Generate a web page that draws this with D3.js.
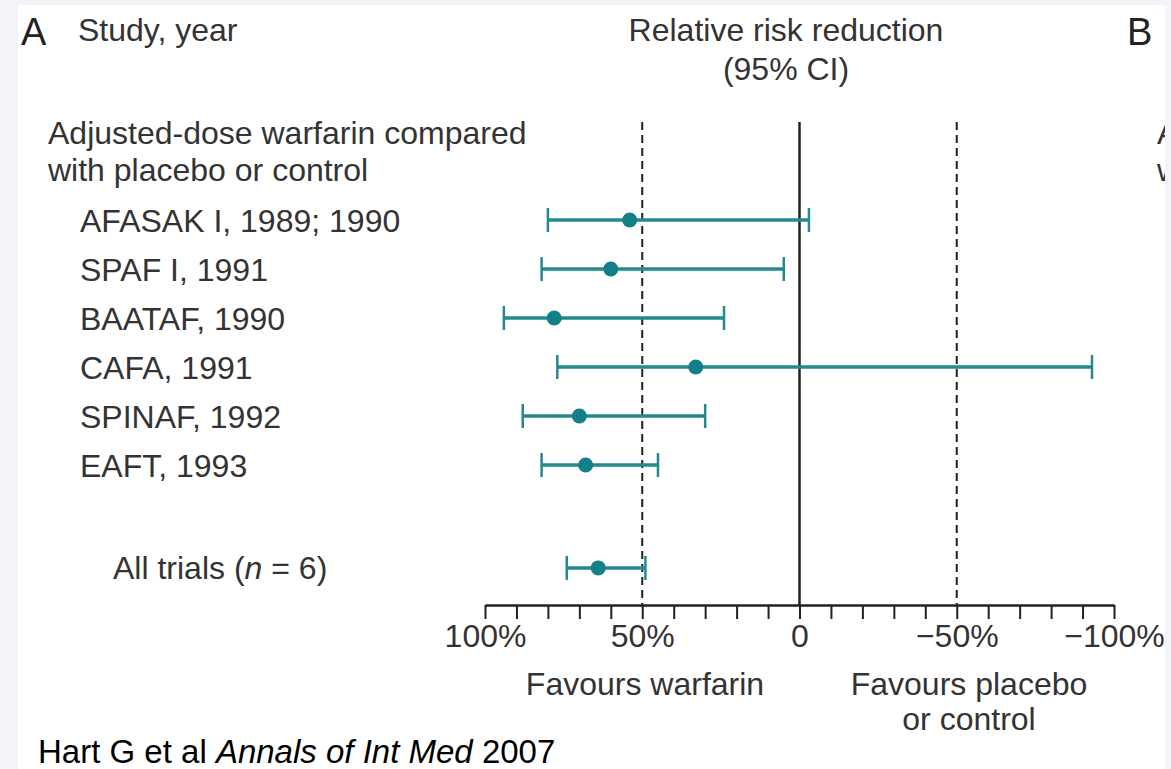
<!DOCTYPE html>
<html>
<head>
<meta charset="utf-8">
<script src="https://cdn.jsdelivr.net/npm/d3@7"></script>
<style>
  html, body { margin: 0; padding: 0; background: #f2f4f9; }
  svg { display: block; }
</style>
</head>
<body>
<svg id="chart" width="1171" height="769"></svg>
<script>
// study rows
var studies = ["AFASAK I, 1989; 1990", "SPAF I, 1991", "BAATAF, 1990", "CAFA, 1991", "SPINAF, 1992", "EAFT, 1993"];
var rrr = [54, 60, 78, 33, 70, 68];        // point estimate, %
var lower = [80, 82, 94, 77, 88, 82];      // CI end favouring warfarin
var upper = [-3, 5, 24, -93, 30, 45];      // CI other end

// pooled
var pooledLabel = "All trials";
var pooled = [64, 74, 49];                 // estimate, lower, upper

var tickValues = d3.range(-100, 101, 10);
var majorTicks = [100, 50, 0, -50, -100];
var refLines = [50, -50];

var teal = "#23898f", tealDot = "#137f87", ink = "#333";
var font = "'Liberation Sans', Arial, Helvetica, sans-serif";
var fs = 32;

var svg = d3.select("#chart");

// white panel
svg.append("rect")
    .attr("x", 18).attr("y", 5)
    .attr("width", 1147).attr("height", 764)
    .style("fill", "#fff");

svg.append("clipPath").attr("id", "panel")
    .append("rect").attr("x", 18).attr("y", 5).attr("width", 1147).attr("height", 764);

var g = svg.append("g").attr("clip-path", "url(#panel)")
    .style("font-family", font);

var x = d3.scaleLinear().domain([100, -100]).range([485, 1114]);
var y = d3.scaleLinear().domain([0, 1]).range([220, 269]);
var axisY = 605;

// headings
function txt(s, px, py, size, anchor, color) {
    return g.append("text")
        .attr("x", px).attr("y", py)
        .style("font-size", size + "px")
        .style("fill", color || ink)
        .style("text-anchor", anchor || "start")
        .text(s);
}
txt("A", 21, 45, 38, "start", "#222");
txt("Study, year", 78, 41, fs);
txt("Relative risk reduction", 786, 41, fs, "middle");
txt("(95% CI)", 786, 80, fs, "middle");
txt("B", 1127, 45, 38, "start", "#222");
txt("Adjusted-dose warfarin compared", 48, 144, fs);
txt("with placebo or control", 48, 181, fs);
// start of panel B, cut by the panel edge as in the source
txt("Adjusted-dose warfarin compared", 1157, 144, fs);
txt("with placebo or control", 1157, 181, fs);

// reference lines
g.selectAll(".ref").data(refLines).enter().append("line")
    .classed("ref", true)
    .attr("x1", function (d) { return x(d) }).attr("x2", function (d) { return x(d) })
    .attr("y1", 122).attr("y2", axisY)
    .style("stroke", "#222").style("stroke-width", 2)
    .style("stroke-dasharray", "8,5");

g.append("line")
    .attr("x1", x(0)).attr("x2", x(0))
    .attr("y1", 122).attr("y2", axisY)
    .style("stroke", "#222").style("stroke-width", 2.5);

// axis
var axis = d3.axisBottom(x)
    .tickValues(tickValues)
    .tickSize(14)
    .tickSizeOuter(0)
    .tickPadding(5)
    .tickFormat(function (d) {
        if (majorTicks.indexOf(d) < 0) return "";
        if (d === 0) return "0";
        return (d < 0 ? "\u2212" + (-d) : d) + "%";
    });

var ax = g.append("g").attr("transform", "translate(0," + axisY + ")").call(axis);
ax.select(".domain").style("stroke", "#222").style("stroke-width", 2.5);
ax.selectAll(".tick line").style("stroke", "#222").style("stroke-width", 2);
ax.selectAll(".tick text")
    .style("font-family", font).style("font-size", fs + "px").style("fill", ink);

txt("Favours warfarin", 645, 695, fs, "middle");
txt("Favours placebo", 969, 695, fs, "middle");
txt("or control", 969, 730, fs, "middle");

// rows
var rows = studies.map(function (s, i) {
    return {label: s, est: rrr[i], lo: lower[i], hi: upper[i], pos: i};
});
rows.push({label: null, est: pooled[0], lo: pooled[1], hi: pooled[2], pos: 7.1});

g.selectAll(".studyTxt").data(rows.filter(function (d) { return d.label })).enter().append("text")
    .classed("studyTxt", true)
    .attr("x", 80)
    .attr("y", function (d) { return y(d.pos) })
    .attr("dy", ".36em")
    .style("font-size", fs + "px").style("fill", ink)
    .text(function (d) { return d.label });

var pooledTxt = g.append("text")
    .attr("x", 113).attr("y", y(7.1)).attr("dy", ".36em")
    .style("font-size", fs + "px").style("fill", ink);
pooledTxt.append("tspan").text(pooledLabel + " (");
pooledTxt.append("tspan").style("font-style", "italic").text("n");
pooledTxt.append("tspan").text(" = " + studies.length + ")");

var ci = g.selectAll(".ci").data(rows).enter().append("g").classed("ci", true)
    .attr("transform", function (d) { return "translate(0," + y(d.pos) + ")" });

ci.append("line")
    .attr("x1", function (d) { return x(d.lo) }).attr("x2", function (d) { return x(d.hi) })
    .style("stroke", teal).style("stroke-width", 3.5);
ci.selectAll(".cap").data(function (d) { return [d.lo, d.hi] }).enter().append("line")
    .classed("cap", true)
    .attr("x1", function (d) { return x(d) }).attr("x2", function (d) { return x(d) })
    .attr("y1", -12).attr("y2", 12)
    .style("stroke", teal).style("stroke-width", 2.5);
ci.append("circle")
    .attr("cx", function (d) { return x(d.est) })
    .attr("r", 7.5)
    .style("fill", tealDot);

// citation
var cite = svg.append("text")
    .attr("x", 38).attr("y", 763)
    .style("font-family", "Arial, 'Liberation Sans', sans-serif")
    .style("font-size", "33px").style("fill", "#000");
cite.append("tspan").text("Hart G et al ");
cite.append("tspan").style("font-style", "italic").text("Annals of Int Med");
cite.append("tspan").text(" 2007");
</script>
</body>
</html>
